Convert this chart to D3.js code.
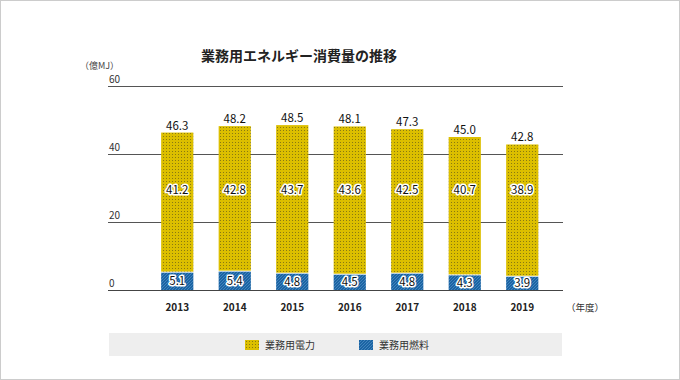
<!DOCTYPE html>
<html><head><meta charset="utf-8">
<script src="https://cdn.jsdelivr.net/npm/d3@7"></script>
<style>body{margin:0;background:#fff;}svg{display:block;font-family:"Noto Sans CJK JP","Noto Sans",sans-serif;}</style>
</head><body><svg id="c" width="680" height="380"></svg>
<script>
const years = ["2013","2014","2015","2016","2017","2018","2019"];
const electricity = [41.2, 42.8, 43.7, 43.6, 42.5, 40.7, 38.9];
const fuel = [5.1, 5.4, 4.8, 4.5, 4.8, 4.3, 3.9];
const totals = [46.3, 48.2, 48.5, 48.1, 47.3, 45.0, 42.8];
const yTicks = [0, 20, 40, 60];
const seriesNames = ["業務用電力", "業務用燃料"];

const svg = d3.select("#c");
svg.append("rect").attr("x",0.5).attr("y",0.5).attr("width",679).attr("height",379)
  .attr("fill","#fff").attr("stroke","#cccccc");
const defs = svg.append("defs");
const pd = defs.append("pattern").attr("id","dots").attr("patternUnits","userSpaceOnUse").attr("width",3).attr("height",3);
pd.append("rect").attr("width",3).attr("height",3).attr("fill","#dcbf00");
pd.append("rect").attr("x",1).attr("y",1).attr("width",1).attr("height",1).attr("fill","#8a7a10");
const ph = defs.append("pattern").attr("id","hatch").attr("patternUnits","userSpaceOnUse").attr("width",3).attr("height",3);
ph.append("rect").attr("width",3).attr("height",3).attr("fill","#1b64a3");
ph.append("path").attr("d","M0,3 L3,0").attr("stroke","#4a8cc4").attr("stroke-width",0.8);

const x = d3.scaleBand().domain(years).range([148.5, 551]).paddingInner(0.44).paddingOuter(0.22);
const y = d3.scaleLinear().domain([0, 60]).range([290, 86]);

// title
svg.append("text").attr("x",299).attr("y",61).attr("text-anchor","middle")
  .attr("font-size",14).attr("font-weight","bold").attr("fill","#222").text("業務用エネルギー消費量の推移");
svg.append("text").attr("x",80).attr("y",69).attr("font-size",9).attr("fill","#444").text("（億MJ）");

// grid
const grid = svg.append("g");
grid.selectAll("line").data(yTicks).join("line")
  .attr("x1",108).attr("x2",563).attr("y1",d=>y(d)).attr("y2",d=>y(d))
  .attr("stroke",d=>d===0?"#444":"#555").attr("stroke-width",1).attr("shape-rendering","crispEdges");
grid.selectAll("text").data(yTicks).join("text")
  .attr("x",109).attr("y",d=>y(d)-3).attr("font-size",10).attr("fill","#333").text(d=>d);

// bars
const g = svg.append("g");
g.selectAll("rect.f").data(years).join("rect").attr("class","f")
  .attr("x",d=>x(d)).attr("width",x.bandwidth())
  .attr("y",(d,i)=>y(fuel[i])).attr("height",(d,i)=>y(0)-y(fuel[i]))
  .attr("fill","url(#hatch)");
g.selectAll("rect.e").data(years).join("rect").attr("class","e")
  .attr("x",d=>x(d)).attr("width",x.bandwidth())
  .attr("y",(d,i)=>y(fuel[i]+electricity[i])).attr("height",(d,i)=>y(fuel[i])-y(fuel[i]+electricity[i])-1)
  .attr("fill","url(#dots)");

// labels
const halo = sel => sel.attr("stroke","#fff").attr("stroke-width",3).attr("paint-order","stroke").attr("stroke-linejoin","round");
g.selectAll("text.t").data(years).join("text").attr("class","t")
  .attr("x",d=>x(d)+x.bandwidth()/2).attr("y",(d,i)=>y(totals[i])-3)
  .attr("text-anchor","middle").attr("font-size",11.5).attr("fill","#111").text((d,i)=>totals[i].toFixed(1));
g.selectAll("text.el").data(years).join("text").attr("class","el")
  .attr("x",d=>x(d)+x.bandwidth()/2).attr("y",y(29.4)+4)
  .attr("text-anchor","middle").attr("font-size",11.5).attr("fill","#111").call(halo).text((d,i)=>electricity[i].toFixed(1));
g.selectAll("text.fl").data(years).join("text").attr("class","fl")
  .attr("x",d=>x(d)+x.bandwidth()/2).attr("y",(d,i)=>(y(fuel[i])+y(0))/2+4)
  .attr("text-anchor","middle").attr("font-size",11.5).attr("fill","#111").call(halo).text((d,i)=>fuel[i].toFixed(1));

// x labels
g.selectAll("text.x").data(years).join("text").attr("class","x")
  .attr("x",d=>x(d)+x.bandwidth()/2).attr("y",311).attr("text-anchor","middle")
  .attr("font-size",10).attr("font-weight","bold").attr("fill","#222").text(d=>d);
svg.append("text").attr("x",566).attr("y",311).attr("font-size",9.5).attr("fill","#333").text("（年度）");

// legend
svg.append("rect").attr("x",109).attr("y",333).attr("width",453).attr("height",23).attr("fill","#eeeeee");
const lg = svg.append("g").selectAll("g").data(seriesNames).join("g")
  .attr("transform",(d,i)=>`translate(${[245,359][i]},340)`);
lg.append("rect").attr("width",14).attr("height",10).attr("fill",(d,i)=>i===0?"url(#dots)":"url(#hatch)");
lg.append("text").attr("x",20).attr("y",9).attr("font-size",10).attr("fill","#333").text(d=>d);
</script></body></html>
